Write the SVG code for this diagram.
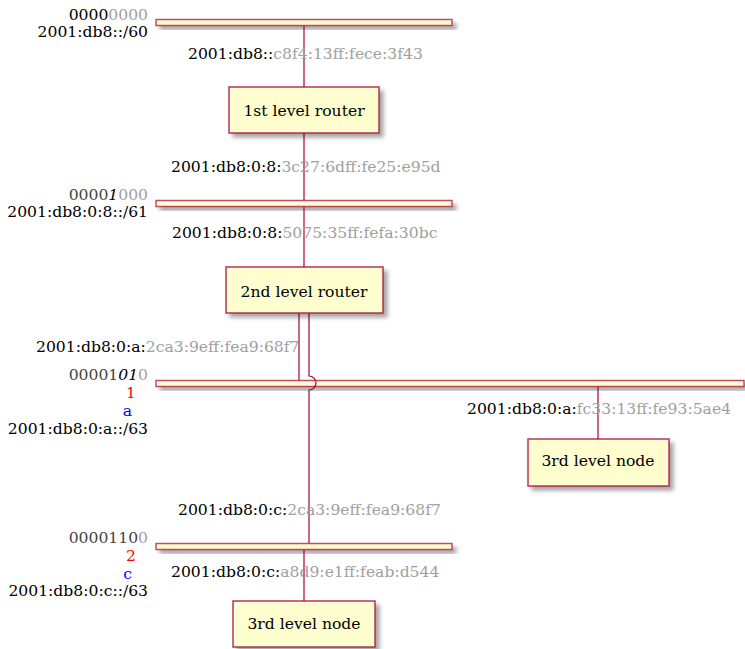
<svg xmlns="http://www.w3.org/2000/svg" width="745" height="649" viewBox="0 0 745 649">
  <defs>
    <filter id="shadow" x="-10%" y="-30%" width="130%" height="200%">
      <feGaussianBlur in="SourceAlpha" stdDeviation="2"/>
      <feOffset dx="4" dy="4" result="blur"/>
      <feFlood flood-color="#000" flood-opacity="0.35"/>
      <feComposite in2="blur" operator="in"/>
      <feMerge><feMergeNode/><feMergeNode in="SourceGraphic"/></feMerge>
    </filter>
    <style>
      text { font-family: "DejaVu Serif", "Liberation Serif", serif; font-size: 15.6px; fill: #000; }
      .bar { fill: #FEFECE; stroke: #A80036; stroke-width: 1.5; stroke-opacity: 0.7; filter: url(#shadow); }
      .box { fill: #FEFECE; stroke: #A80036; stroke-width: 1.5; stroke-opacity: 0.8; filter: url(#shadow); }
      .wire { fill: none; stroke: #A80036; stroke-width: 1.2; }
      .g { fill: #A0A0A0; }
      .d { fill: #444; }
      .i { font-style: italic; fill: #000; }
      .r { fill: #FF0000; }
      .b { fill: #0000FF; }
      .end { text-anchor: end; }
      .mid { text-anchor: middle; }
    </style>
  </defs>

  <!-- networks -->
  <g id="net1">
    <rect class="bar" x="156" y="19.5" width="296" height="6"/>
    <text class="end" x="148" y="20">0000<tspan class="g">0000</tspan></text>
    <text class="end" x="148" y="37">2001:db8::/60</text>
  </g>
  <g id="net2">
    <rect class="bar" x="156" y="200.5" width="296" height="6"/>
    <text class="end" x="148" y="200"><tspan class="d">0000</tspan><tspan class="i">1</tspan><tspan class="g">000</tspan></text>
    <text class="end" x="148" y="217">2001:db8:0:8::/61</text>
  </g>
  <g id="net3">
    <rect class="bar" x="156" y="380.5" width="588" height="6"/>
    <text class="end" x="148" y="380"><tspan class="d">00001</tspan><tspan class="i">01</tspan><tspan class="g">0</tspan></text>
    <text class="end r" x="136" y="398">1</text>
    <text class="end b" x="132" y="416">a</text>
    <text class="end" x="148" y="434">2001:db8:0:a::/63</text>
  </g>
  <g id="net4">
    <rect class="bar" x="156" y="543.5" width="296" height="6"/>
    <text class="end" x="148" y="543"><tspan class="d">0000110</tspan><tspan class="g">0</tspan></text>
    <text class="end r" x="136" y="561">2</text>
    <text class="end b" x="132" y="579">c</text>
    <text class="end" x="148" y="596">2001:db8:0:c::/63</text>
  </g>

  <!-- connectors -->
  <g id="connectors">
    <line class="wire" x1="304" y1="26" x2="304" y2="87"/>
    <line class="wire" x1="304" y1="133" x2="304" y2="200"/>
    <line class="wire" x1="304" y1="207" x2="304" y2="267"/>
    <line class="wire" x1="299" y1="313" x2="299" y2="380"/>
    <path class="wire" d="M309 313 V376 A7 7 0 0 1 309 390 V543"/>
    <line class="wire" x1="598" y1="387" x2="598" y2="439"/>
    <line class="wire" x1="304" y1="550" x2="304" y2="601"/>
  </g>

  <!-- address labels -->
  <g id="addresses">
    <text x="188" y="59">2001:db8::<tspan class="g">c8f4:13ff:fece:3f43</tspan></text>
    <text x="171" y="172">2001:db8:0:8:<tspan class="g">3c27:6dff:fe25:e95d</tspan></text>
    <text x="172" y="238">2001:db8:0:8:<tspan class="g">5075:35ff:fefa:30bc</tspan></text>
    <text x="36" y="352">2001:db8:0:a:<tspan class="g">2ca3:9eff:fea9:68f7</tspan></text>
    <text x="467" y="414">2001:db8:0:a:<tspan class="g">fc33:13ff:fe93:5ae4</tspan></text>
    <text x="178" y="515">2001:db8:0:c:<tspan class="g">2ca3:9eff:fea9:68f7</tspan></text>
    <text x="171" y="577">2001:db8:0:c:<tspan class="g">a8d9:e1ff:feab:d544</tspan></text>
  </g>

  <!-- nodes -->
  <g id="router1">
    <rect class="box" x="229" y="87" width="150" height="46"/>
    <text class="mid" x="304" y="116">1st level router</text>
  </g>
  <g id="router2">
    <rect class="box" x="226" y="267" width="157" height="46"/>
    <text class="mid" x="304" y="297">2nd level router</text>
  </g>
  <g id="node3a">
    <rect class="box" x="528" y="439" width="141" height="47"/>
    <text class="mid" x="598" y="466">3rd level node</text>
  </g>
  <g id="node3c">
    <rect class="box" x="233" y="601" width="142" height="46"/>
    <text class="mid" x="304" y="629">3rd level node</text>
  </g>
</svg>
